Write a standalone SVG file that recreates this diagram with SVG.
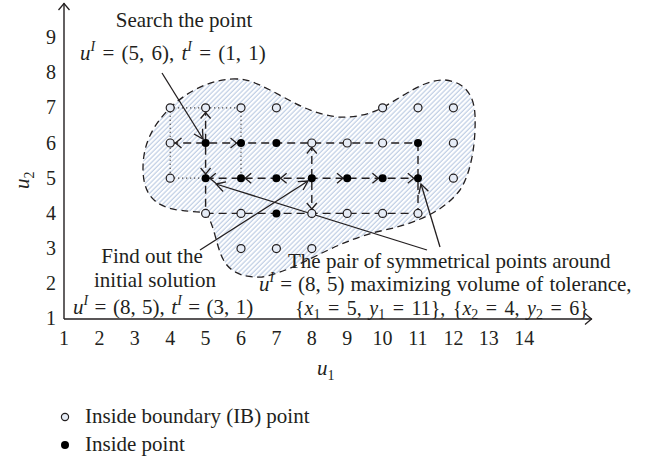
<svg xmlns="http://www.w3.org/2000/svg" xmlns:xlink="http://www.w3.org/1999/xlink" width="652" height="460" viewBox="0 0 652 460">
<style>
text{font-family:"Liberation Serif","Times New Roman",serif;fill:#231f20;}
.lbl{font-size:21px;}
.tick{font-size:20px;text-anchor:middle;}
.it{font-style:italic;}
.sup{font-style:italic;font-size:14px;}
.sub{font-size:14px;}
.ib{fill:#e6ecf6;stroke:#231f20;stroke-width:1.2;}
.in{fill:#000;stroke:none;}
.dash{fill:none;stroke:#231f20;stroke-width:1.4;stroke-dasharray:8 5;}
.dot{fill:none;stroke:#231f20;stroke-width:1.2;stroke-dasharray:1 3;}
.head{fill:none;stroke:#231f20;stroke-width:1.3;}
.ann{fill:none;stroke:#231f20;stroke-width:1.3;marker-end:url(#arr);}
.axis{fill:none;stroke:#231f20;stroke-width:1.4;}
</style>
<defs>
<pattern id="hatch" width="3.4" height="10" patternUnits="userSpaceOnUse" patternTransform="rotate(45)">
<rect width="3.4" height="10" fill="#ffffff"/>
<line x1="1" y1="0" x2="1" y2="10" stroke="#a9bddb" stroke-width="0.9"/>
</pattern>
<path id="chev" d="M-6,-5 L0,0 L-6,5"/>
<marker id="arr" markerWidth="14" markerHeight="14" refX="10" refY="6" orient="auto" markerUnits="userSpaceOnUse">
<path d="M1,1 L10,6 L1,11" fill="none" stroke="#231f20" stroke-width="1.3"/>
</marker>
</defs>

<!-- region -->
<g id="region">
<path d="M 237,79 C 212,78 186,92 170,108 C 152,126 143,145 143,168 C 143,192 152,206 178,210 C 193,212 202,212 206,213 C 216,228 216,250 226,264 C 234,274 246,278 262,277 C 300,270 330,242 385,230 C 420,222 445,210 460,190 C 472,172 476,140 475,115 C 474,95 465,82 445,80 C 425,79 405,95 382,108 C 368,115 352,118 338,117 C 310,114 290,100 270,90 C 258,84 248,79 237,79 Z" fill="url(#hatch)" stroke="#231f20" stroke-width="1.3" stroke-dasharray="7 4.5"/>
</g>

<!-- axes -->
<g id="axes">
<path class="axis" d="M64,319 V3 M592,319 H64"/>
<path class="head" d="M58.5,10 L64,3.5 L69.5,10"/>
<path class="head" d="M585,313.5 L591.5,319 L585,324.5"/>
<g class="tick">
<text x="51" y="325">1</text><text x="51" y="290">2</text><text x="51" y="255">3</text><text x="51" y="220">4</text><text x="51" y="185">5</text><text x="51" y="150">6</text><text x="51" y="114">7</text><text x="51" y="79">8</text><text x="51" y="44">9</text>
<text x="64" y="345">1</text><text x="99.4" y="345">2</text><text x="134.8" y="345">3</text><text x="170.2" y="345">4</text><text x="205.6" y="345">5</text><text x="241" y="345">6</text><text x="276.4" y="345">7</text><text x="311.8" y="345">8</text><text x="347.2" y="345">9</text><text x="382.6" y="345">10</text><text x="418" y="345">11</text><text x="453.4" y="345">12</text><text x="488.8" y="345">13</text><text x="524.2" y="345">14</text>
</g>
<text class="lbl" x="317" y="375"><tspan class="it">u</tspan><tspan class="sub" dy="5">1</tspan></text>
<text class="lbl" transform="translate(29,189) rotate(-90)"><tspan class="it">u</tspan><tspan class="sub" dy="5">2</tspan></text>
</g>

<!-- connectors -->
<g id="connectors">
<path class="dot" d="M170.2,107.8 H241 M170.2,107.8 V178.2 M170.2,178.2 H205.6 M241,107.8 V178.2"/>
<path class="dash" d="M170.2,143 H418 M205.6,178.2 H418 M205.6,213.4 H418 M205.6,107.8 V213.4 M311.8,143 V213.4 M418,143 V213.4"/>
<g class="head">
<use xlink:href="#chev" transform="translate(175.5,143) rotate(180)"/>
<use xlink:href="#chev" transform="translate(236.5,143)"/>
<use xlink:href="#chev" transform="translate(205.6,112.5) rotate(-90)"/>
<use xlink:href="#chev" transform="translate(205.6,174) rotate(90)"/>
<use xlink:href="#chev" transform="translate(209.8,178.2) rotate(180)"/>
<use xlink:href="#chev" transform="translate(245.2,178.2) rotate(180)"/>
<use xlink:href="#chev" transform="translate(280.6,178.2) rotate(180)"/>
<use xlink:href="#chev" transform="translate(343,178.2)"/>
<use xlink:href="#chev" transform="translate(378.4,178.2)"/>
<use xlink:href="#chev" transform="translate(413.8,178.2)"/>
<use xlink:href="#chev" transform="translate(311.8,147.5) rotate(-90)"/>
<use xlink:href="#chev" transform="translate(311.8,209) rotate(90)"/>
</g>
<path class="ann" d="M162,73 L203,139"/>
<path class="ann" d="M200,250 L308,181"/>
<path class="ann" d="M427,250 L216,184"/>
<path class="ann" d="M440,247 L421,184"/>
</g>

<!-- points -->
<g id="ib-points">
<circle class="ib" cx="170.2" cy="107.8" r="4"/><circle class="ib" cx="205.6" cy="107.8" r="4"/><circle class="ib" cx="241" cy="107.8" r="4"/><circle class="ib" cx="276.4" cy="107.8" r="4"/><circle class="ib" cx="382.6" cy="107.8" r="4"/><circle class="ib" cx="418" cy="107.8" r="4"/><circle class="ib" cx="453.4" cy="107.8" r="4"/>
<circle class="ib" cx="170.2" cy="143" r="4"/><circle class="ib" cx="311.8" cy="143" r="4"/><circle class="ib" cx="347.2" cy="143" r="4"/><circle class="ib" cx="382.6" cy="143" r="4"/><circle class="ib" cx="453.4" cy="143" r="4"/>
<circle class="ib" cx="170.2" cy="178.2" r="4"/><circle class="ib" cx="453.4" cy="178.2" r="4"/>
<circle class="ib" cx="205.6" cy="213.4" r="4"/><circle class="ib" cx="241" cy="213.4" r="4"/><circle class="ib" cx="311.8" cy="213.4" r="4"/><circle class="ib" cx="347.2" cy="213.4" r="4"/><circle class="ib" cx="382.6" cy="213.4" r="4"/><circle class="ib" cx="418" cy="213.4" r="4"/>
<circle class="ib" cx="241" cy="248.6" r="4"/><circle class="ib" cx="276.4" cy="248.6" r="4"/><circle class="ib" cx="311.8" cy="248.6" r="4"/>
</g>
<g id="inside-points">
<circle class="in" cx="205.6" cy="143" r="4"/><circle class="in" cx="241" cy="143" r="4"/><circle class="in" cx="276.4" cy="143" r="4"/><circle class="in" cx="418" cy="143" r="4"/>
<circle class="in" cx="205.6" cy="178.2" r="4"/><circle class="in" cx="241" cy="178.2" r="4"/><circle class="in" cx="276.4" cy="178.2" r="4"/><circle class="in" cx="311.8" cy="178.2" r="4"/><circle class="in" cx="347.2" cy="178.2" r="4"/><circle class="in" cx="382.6" cy="178.2" r="4"/><circle class="in" cx="418" cy="178.2" r="4"/>
<circle class="in" cx="276.4" cy="213.4" r="4"/>
</g>

<!-- annotations -->
<g id="label-search">
<text class="lbl" x="184" y="27" text-anchor="middle">Search the point</text>
<text class="lbl" x="80" y="60" word-spacing="2"><tspan class="it">u</tspan><tspan class="sup" dy="-9">I</tspan><tspan dy="9"> = (5, 6), </tspan><tspan class="it">t</tspan><tspan class="sup" dy="-9">I</tspan><tspan dy="9"> = (1, 1)</tspan></text>
</g>
<g id="label-initial">
<text class="lbl" x="152" y="263" text-anchor="middle">Find out the</text>
<text class="lbl" x="155" y="287" text-anchor="middle">initial solution</text>
<text class="lbl" x="73" y="314" word-spacing="1.2"><tspan class="it">u</tspan><tspan class="sup" dy="-9">I</tspan><tspan dy="9"> = (8, 5), </tspan><tspan class="it">t</tspan><tspan class="sup" dy="-9">I</tspan><tspan dy="9"> = (3, 1)</tspan></text>
</g>
<g id="label-pair">
<text class="lbl" x="288" y="268">The pair of symmetrical points around</text>
<text class="lbl" x="259" y="291"><tspan class="it">u</tspan><tspan class="sup" dy="-9">I</tspan><tspan dy="9" word-spacing="0.8"> = (8, 5) maximizing volume of tolerance,</tspan></text>
<text x="295" y="315" font-size="20" word-spacing="2.5">{<tspan class="it">x</tspan><tspan class="sub" dy="4">1</tspan><tspan dy="-4"> = 5, </tspan><tspan class="it">y</tspan><tspan class="sub" dy="4">1</tspan><tspan dy="-4"> = 11}, {</tspan><tspan class="it">x</tspan><tspan class="sub" dy="4">2</tspan><tspan dy="-4"> = 4, </tspan><tspan class="it">y</tspan><tspan class="sub" dy="4">2</tspan><tspan dy="-4"> = 6}</tspan></text>
</g>

<!-- legend -->
<g id="legend">
<circle class="ib" cx="65" cy="417" r="3.6"/>
<text class="lbl" x="85" y="423">Inside boundary (IB) point</text>
<circle class="in" cx="65" cy="445" r="4"/>
<text class="lbl" x="85" y="451">Inside point</text>
</g>
</svg>
